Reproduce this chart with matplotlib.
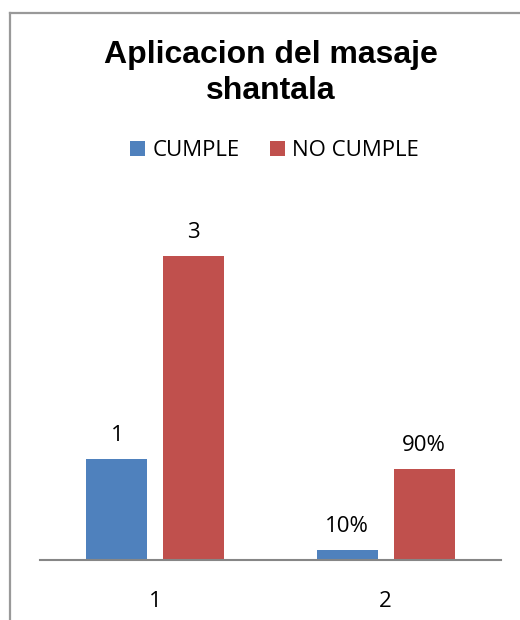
import matplotlib
matplotlib.use("Agg")
import matplotlib.pyplot as plt
import numpy as np
from matplotlib.lines import Line2D
from matplotlib.patches import Patch

# data
categories = ["1", "2"]
series = ["CUMPLE", "NO CUMPLE"]
cumple = [1, 0.1]
no_cumple = [3, 0.9]
cumple_labels = ["1", "10%"]
no_cumple_labels = ["3", "90%"]
colors = ["#4F81BD", "#C0504D"]

label_font = "Open Sans"
title_font = "Liberation Sans"

fig = plt.figure(figsize=(5.2, 6.2), dpi=100)
ax = fig.add_axes([40 / 520, 60 / 620, 461 / 520, 354.7 / 620])

x = np.arange(len(categories))
width = 0.264
offset = 0.1667
b1 = ax.bar(x - offset, cumple, width, color=colors[0])
b2 = ax.bar(x + offset, no_cumple, width, color=colors[1])

for bars, labels in ((b1, cumple_labels), (b2, no_cumple_labels)):
    for rect, txt in zip(bars, labels):
        ax.annotate(txt, (rect.get_x() + rect.get_width() / 2, rect.get_height()),
                    xytext=(0, 12.6), textcoords="offset points",
                    ha="center", va="baseline", fontsize=16,
                    family=label_font, color="#000000", annotation_clip=False)

ax.set_xlim(-0.5, 1.5)
ax.set_ylim(0, 3.5)
ax.set_xticks(x)
ax.set_xticklabels(categories, family=label_font, fontsize=16)
ax.tick_params(axis="x", length=0, pad=22)
ax.set_yticks([])
for s in ("top", "right", "left"):
    ax.spines[s].set_visible(False)
ax.spines["bottom"].set_color("#868686")
ax.spines["bottom"].set_linewidth(1.5)

fig.text(271 / 520, 1 - 73 / 620, "Aplicacion del masaje\nshantala",
         ha="center", va="center", fontsize=23, fontweight="bold",
         family=title_font, linespacing=1.22)

handles = [Patch(facecolor=c, edgecolor="none") for c in colors]
fig.legend(handles, series, loc="center", bbox_to_anchor=(274.5 / 520, 1 - 151 / 620),
           ncol=2, frameon=False, prop={"family": label_font, "size": 16},
           handlelength=0.675, handleheight=0.675, handletextpad=0.32,
           columnspacing=1.35)

# outer chart frame (top and left edges)
frame_color = "#999999"
fig.add_artist(Line2D([10 / 520, 1], [1 - 13 / 620, 1 - 13 / 620],
                      transform=fig.transFigure, color=frame_color, lw=1.6))
fig.add_artist(Line2D([10 / 520, 10 / 520], [0, 1 - 13 / 620],
                      transform=fig.transFigure, color=frame_color, lw=1.6))

fig.savefig("out.png", dpi=100)
